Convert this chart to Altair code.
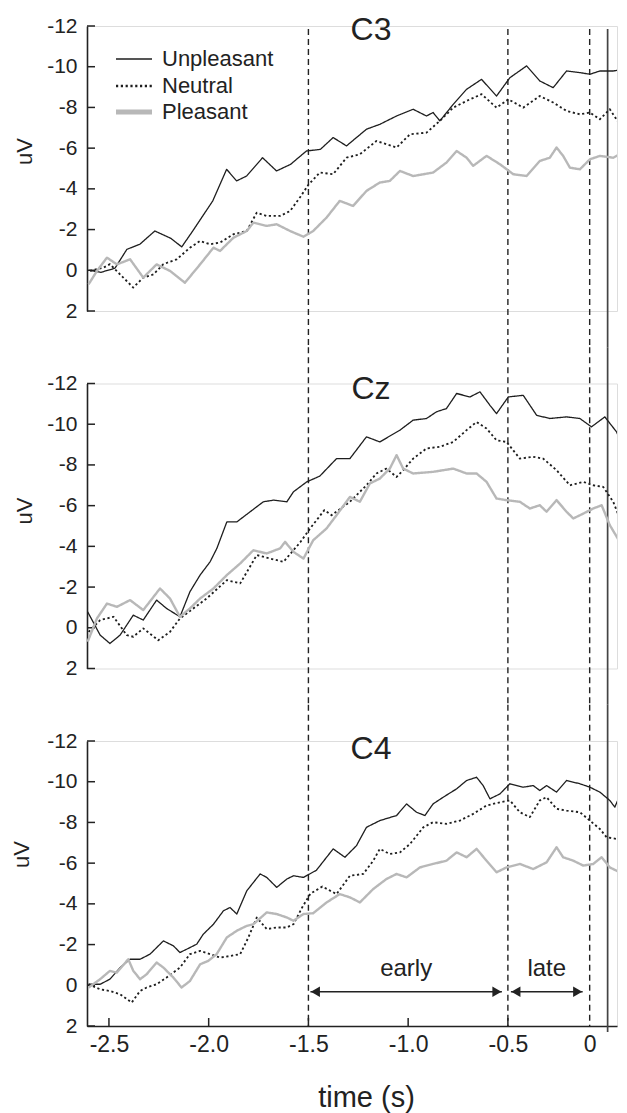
import altair as alt
import pandas as pd

FONT = "Liberation Sans"
INK = "#222222"

CONDITIONS = ["Unpleasant", "Neutral", "Pleasant"]
COND_COLORS = ["#1e1e1e", "#1e1e1e", "#b8b8b8"]
COND_DASH = [[1, 0], [2.2, 2.6], [1, 0]]
COND_WIDTH = [1.3, 2.4, 5.0]

PANELS = ["C3", "Cz", "C4"]
Y_TICKS = [-12, -10, -8, -6, -4, -2, 0, 2]
X_TICKS = [-2.5, -2.0, -1.5, -1.0, -0.5]
X_LABEL_TICKS = [-2.5, -2.0, -1.5, -1.0, -0.5, -0.09]
DASHED_T = [-1.5, -0.5, -0.09]
SOLID_T = [0.0]

WIN_LABELS = ["early", "late"]
WIN_START = [-1.49, -0.485]
WIN_END = [-0.53, -0.125]
WIN_MID = [-1.01, -0.305]
WIN_ARROW_V = [0.32, 0.32]
WIN_TEXT_V = [-0.81, -0.81]

C3_UNP_T = [-2.60, -2.54, -2.47, -2.41, -2.345, -2.27, -2.19, -2.135, -2.08, -1.98, -1.91, -1.86, -1.81, -1.73,
            -1.66, -1.59, -1.51, -1.44, -1.376, -1.309, -1.209, -1.142, -1.058, -0.975, -0.908, -0.875, -0.841,
            -0.774, -0.707, -0.632, -0.557, -0.49, -0.406, -0.34, -0.273, -0.206, -0.139, -0.089, -0.039, 0.028,
            0.079, 0.097]
C3_UNP_V = [0.0, 0.1, -0.1, -1.03, -1.28, -1.93, -1.57, -1.15, -1.93, -3.4, -4.96, -4.39, -4.63, -5.53,
            -4.88, -5.2, -5.86, -5.94, -6.52, -6.11, -6.93, -7.17, -7.58, -7.91, -7.58, -7.75, -7.34,
            -8.15, -8.89, -9.38, -8.56, -9.46, -10.04, -9.30, -8.97, -9.79, -9.71, -9.63, -9.79, -9.79,
            -9.87, -9.63]
C3_NEU_T = [-2.595, -2.528, -2.495, -2.428, -2.378, -2.328, -2.277, -2.227, -2.160, -2.094, -2.043, -1.993,
            -1.943, -1.876, -1.809, -1.759, -1.709, -1.642, -1.592, -1.541, -1.50, -1.443, -1.376, -1.309,
            -1.242, -1.159, -1.058, -0.991, -0.908, -0.841, -0.774, -0.707, -0.632, -0.557, -0.498, -0.423,
            -0.340, -0.273, -0.206, -0.139, -0.089, -0.039, 0.011, 0.061, 0.097]
C3_NEU_V = [0.03, -0.13, -0.3, 0.36, 0.85, 0.36, 0.2, -0.3, -0.54, -1.11, -1.44, -1.28,
            -1.36, -1.77, -1.93, -2.83, -2.67, -2.67, -2.91, -3.6, -4.2, -4.8, -4.72, -5.53,
            -5.70, -6.35, -6.03, -6.68, -6.76, -7.34, -7.99, -8.32, -8.65, -7.99, -8.40, -7.99,
            -8.56, -8.24, -7.83, -7.66, -7.75, -7.42, -7.91, -7.17, -6.35]
C3_PLE_T = [-2.602, -2.560, -2.510, -2.460, -2.394, -2.328, -2.261, -2.194, -2.119, -2.043, -1.976, -1.943,
            -1.876, -1.809, -1.776, -1.709, -1.659, -1.592, -1.525, -1.476, -1.409, -1.343, -1.276, -1.209,
            -1.142, -1.092, -1.041, -0.975, -0.875, -0.808, -0.757, -0.707, -0.674, -0.607, -0.540, -0.473,
            -0.406, -0.340, -0.290, -0.256, -0.223, -0.189, -0.139, -0.089, -0.039, 0.028, 0.061, 0.097]
C3_PLE_V = [0.69, 0.03, -0.62, -0.29, -0.54, 0.36, -0.29, 0.03, 0.61, -0.29, -1.11, -0.95,
            -1.60, -1.93, -2.34, -2.18, -2.26, -1.93, -1.65, -1.93, -2.59, -3.41, -3.16, -3.90,
            -4.31, -4.39, -4.88, -4.63, -4.80, -5.29, -5.86, -5.53, -5.13, -5.62, -5.21, -4.72,
            -4.63, -5.37, -5.53, -6.03, -5.62, -5.04, -4.96, -5.45, -5.62, -5.53, -5.70, -5.21]

CZ_UNP_T = [-2.607, -2.544, -2.495, -2.444, -2.378, -2.328, -2.261, -2.211, -2.144, -2.094, -2.043, -1.993,
            -1.959, -1.909, -1.859, -1.792, -1.726, -1.675, -1.608, -1.575, -1.508, -1.443, -1.359, -1.292,
            -1.209, -1.142, -1.041, -0.975, -0.908, -0.858, -0.808, -0.757, -0.690, -0.640, -0.590, -0.557,
            -0.498, -0.423, -0.356, -0.290, -0.206, -0.139, -0.081, -0.014, 0.045, 0.097]
CZ_UNP_V = [-0.79, 0.36, 0.77, 0.36, -0.62, -0.38, -1.36, -0.95, -0.54, -1.77, -2.59, -3.24,
            -3.90, -5.20, -5.20, -5.70, -6.19, -6.27, -6.19, -6.68, -7.17, -7.45, -8.31, -8.31,
            -9.38, -9.13, -9.71, -10.20, -10.28, -10.61, -10.77, -11.51, -11.34, -11.59, -10.93, -10.52,
            -11.34, -11.42, -10.44, -10.28, -10.36, -10.28, -9.87, -10.36, -9.62, -8.40]
CZ_NEU_T = [-2.602, -2.544, -2.477, -2.411, -2.378, -2.328, -2.253, -2.194, -2.144, -2.077, -2.010, -1.909,
            -1.842, -1.759, -1.692, -1.625, -1.541, -1.49, -1.45, -1.42, -1.384, -1.292, -1.209, -1.159,
            -1.109, -1.058, -1.025, -0.975, -0.908, -0.841, -0.774, -0.707, -0.657, -0.607, -0.557, -0.507,
            -0.440, -0.373, -0.323, -0.256, -0.189, -0.122, -0.072, -0.022, 0.028, 0.061, 0.097]
CZ_NEU_V = [0.2, -0.38, -0.54, 0.36, 0.44, 0.03, 0.61, 0.2, -0.46, -0.95, -1.44, -2.34,
            -2.18, -3.57, -3.40, -3.24, -4.2, -4.9, -5.4, -5.78, -5.53, -6.19, -7.0, -7.58,
            -7.82, -7.41, -7.74, -8.31, -8.81, -8.89, -9.13, -9.71, -10.11, -9.79, -9.21, -9.13,
            -8.31, -8.40, -8.31, -7.74, -7.00, -7.17, -7.00, -6.92, -6.19, -5.37, -4.71]
CZ_PLE_T = [-2.607, -2.560, -2.510, -2.460, -2.394, -2.328, -2.244, -2.194, -2.144, -2.094, -2.043, -1.976,
            -1.909, -1.842, -1.776, -1.709, -1.642, -1.617, -1.575, -1.525, -1.476, -1.409, -1.359, -1.292,
            -1.242, -1.192, -1.142, -1.092, -1.058, -1.025, -0.975, -0.875, -0.774, -0.707, -0.657, -0.607,
            -0.557, -0.507, -0.440, -0.390, -0.340, -0.306, -0.256, -0.206, -0.172, -0.122, -0.072, -0.030,
            0.011, 0.061, 0.097]
CZ_PLE_V = [0.69, -0.46, -1.19, -1.03, -1.36, -0.87, -1.93, -1.44, -0.54, -0.95, -1.44, -1.93,
            -2.59, -3.16, -3.81, -3.65, -3.90, -4.22, -3.73, -3.40, -4.30, -4.88, -5.53, -6.43,
            -6.19, -7.09, -7.33, -7.82, -8.48, -7.82, -7.58, -7.66, -7.82, -7.58, -7.58, -7.17,
            -6.35, -6.27, -6.19, -5.86, -6.02, -5.70, -6.27, -5.70, -5.37, -5.61, -5.86, -6.02,
            -5.04, -4.22, -3.08]

C4_UNP_T = [-2.602, -2.544, -2.495, -2.444, -2.394, -2.344, -2.294, -2.227, -2.177, -2.144, -2.094, -2.060,
            -2.027, -1.976, -1.926, -1.893, -1.859, -1.809, -1.742, -1.709, -1.659, -1.608, -1.575, -1.525,
            -1.460, -1.376, -1.317, -1.259, -1.209, -1.142, -1.058, -1.008, -0.958, -0.916, -0.875, -0.824,
            -0.757, -0.707, -0.657, -0.624, -0.590, -0.540, -0.490, -0.423, -0.373, -0.340, -0.306, -0.256,
            -0.206, -0.139, -0.089, -0.039, 0.011, 0.036, 0.061, 0.097]
C4_UNP_V = [-0.05, -0.05, -0.30, -0.87, -1.28, -1.28, -1.53, -2.18, -1.94, -1.61, -1.85, -2.02,
            -2.51, -3.00, -3.66, -3.82, -3.50, -4.64, -5.47, -5.30, -4.81, -5.22, -5.38, -5.30,
            -5.65, -6.70, -6.29, -6.86, -7.76, -8.09, -8.34, -8.91, -8.50, -8.34, -8.91, -9.24,
            -9.65, -10.06, -10.22, -9.81, -9.16, -9.40, -9.90, -9.73, -9.81, -9.57, -9.81, -9.49,
            -10.06, -9.90, -9.73, -9.49, -9.08, -8.75, -9.32, -9.73]
C4_NEU_T = [-2.602, -2.544, -2.495, -2.444, -2.386, -2.344, -2.311, -2.261, -2.211, -2.144, -2.094, -2.043,
            -1.993, -1.943, -1.893, -1.842, -1.801, -1.759, -1.709, -1.659, -1.608, -1.575, -1.53, -1.49,
            -1.43, -1.359, -1.292, -1.225, -1.175, -1.142, -1.092, -1.041, -0.991, -0.924, -0.875, -0.808,
            -0.741, -0.674, -0.607, -0.540, -0.490, -0.440, -0.390, -0.340, -0.306, -0.256, -0.206, -0.139,
            -0.089, -0.039, -0.005, 0.045, 0.097]
C4_NEU_V = [-0.05, 0.20, 0.28, 0.44, 0.85, 0.28, 0.11, -0.05, -0.38, -0.87, -1.53, -1.69,
            -1.53, -1.36, -1.44, -1.53, -2.35, -3.33, -2.76, -2.84, -2.84, -3.00, -3.85, -4.5,
            -4.85, -4.48, -5.38, -5.47, -6.12, -6.70, -6.45, -6.53, -6.94, -7.76, -8.01, -7.93,
            -8.09, -8.42, -8.83, -8.99, -9.08, -8.50, -8.26, -9.08, -9.24, -8.67, -8.58, -8.50,
            -8.09, -7.68, -7.27, -7.19, -6.78]
C4_PLE_T = [-2.602, -2.544, -2.495, -2.461, -2.403, -2.378, -2.344, -2.311, -2.261, -2.227, -2.177, -2.136,
            -2.094, -2.043, -2.002, -1.960, -1.909, -1.859, -1.809, -1.776, -1.709, -1.659, -1.608, -1.575,
            -1.525, -1.476, -1.409, -1.343, -1.292, -1.242, -1.175, -1.109, -1.058, -1.008, -0.941, -0.875,
            -0.808, -0.757, -0.707, -0.657, -0.607, -0.557, -0.507, -0.440, -0.373, -0.306, -0.256, -0.223,
            -0.172, -0.122, -0.072, -0.030, 0.011, 0.061, 0.097]
C4_PLE_V = [0.11, -0.30, -0.71, -0.62, -1.28, -0.71, -0.30, -0.54, -1.12, -0.87, -0.38, 0.11,
            -0.21, -1.03, -1.20, -1.53, -2.35, -2.68, -2.92, -3.00, -3.58, -3.50, -3.33, -3.17,
            -3.50, -3.54, -4.07, -4.48, -4.32, -4.07, -4.73, -5.22, -5.47, -5.30, -5.79, -5.96,
            -6.12, -6.53, -6.29, -6.70, -6.12, -5.55, -5.79, -5.96, -5.71, -6.04, -6.78, -6.29,
            -6.12, -5.88, -5.96, -6.29, -5.79, -5.55, -6.20]

SERIES = {
    "C3": [(C3_UNP_T, C3_UNP_V), (C3_NEU_T, C3_NEU_V), (C3_PLE_T, C3_PLE_V)],
    "Cz": [(CZ_UNP_T, CZ_UNP_V), (CZ_NEU_T, CZ_NEU_V), (CZ_PLE_T, CZ_PLE_V)],
    "C4": [(C4_UNP_T, C4_UNP_V), (C4_NEU_T, C4_NEU_V), (C4_PLE_T, C4_PLE_V)],
}

# layout (pixels)
W = 530
H = 285
SPACING = 72.5
TITLE_Y = {"C3": 21, "Cz": 22, "C4": 25}   # bottom baseline of the electrode label
UV_Y = {"C3": 125, "Cz": 127, "C4": 113}
UV_X = {"C3": -63, "Cz": -63, "C4": -66}
HALF = SPACING / 2
RULE_EXT = {"C3": (3, HALF), "Cz": (-HALF, HALF), "C4": (-HALF, 0)}
LEG_Y = [33, 60, 86]
LEG_X = (29, 65, 75)

xs = alt.Scale(domain=[-2.61, 0.047], nice=False, zero=False)
ys = alt.Scale(domain=[-12, 2], reverse=True, nice=False, zero=False)

Y_LABEL = "datum.value < 0 ? '-' + format(-datum.value, 'd') : format(datum.value, 'd')"
X_LABEL = "datum.value > -0.3 ? '0' : '-' + format(-datum.value, '.1f')"


def panel(name, bottom=False, legend=False):
    rows = []
    for cond, (ts, vs) in zip(CONDITIONS, SERIES[name]):
        for t, v in zip(ts, vs):
            rows.append({"t": t, "v": v, "cond": cond})
    df = pd.DataFrame(rows)

    if bottom:
        xaxis = alt.Axis(values=X_LABEL_TICKS, labelExpr=X_LABEL, domain=True, labels=True,
                         title="time (s)", titleFont=FONT, titleFontSize=29, titleFontWeight="normal",
                         titleColor=INK, titleX=279, titleY=71, titleBaseline="middle",
                         labelFont=FONT, labelFontSize=23, labelColor=INK, labelPadding=7,
                         labelFlush=False, labelOverlap=False, ticks=False, tickSize=0,
                         domainColor=INK, domainWidth=1.6, grid=False)
    else:
        xaxis = None
    yaxis = alt.Axis(values=Y_TICKS, labelExpr=Y_LABEL, title="uV", titleFont=FONT, titleFontSize=22,
                     titleFontWeight="normal", titleColor=INK, titleX=UV_X[name], titleY=UV_Y[name],
                     titleBaseline="middle", labelFont=FONT, labelFontSize=21, labelColor=INK, labelPadding=10,
                     ticks=False, tickSize=0, domainColor=INK, domainWidth=1.6, grid=False,
                     labelOverlap=False)

    X = lambda f: alt.X(f, scale=xs, axis=xaxis)
    Y = lambda f: alt.Y(f, scale=ys, axis=yaxis)

    lines = alt.Chart(df).mark_line(clip=True, strokeJoin="round").encode(
        x=X("t:Q"), y=Y("v:Q"),
        color=alt.Color("cond:N", scale=alt.Scale(domain=CONDITIONS, range=COND_COLORS), legend=None),
        strokeDash=alt.StrokeDash("cond:N", scale=alt.Scale(domain=CONDITIONS, range=COND_DASH), legend=None),
        strokeWidth=alt.StrokeWidth("cond:N", scale=alt.Scale(domain=CONDITIONS, range=COND_WIDTH), legend=None),
    )

    top, ext = RULE_EXT[name]
    dashed = alt.Chart(pd.DataFrame({"t": DASHED_T})).mark_rule(
        color=INK, strokeWidth=1.4, strokeDash=[6, 4]).encode(
        x=X("t:Q"), y=alt.value(top), y2=alt.value(H + ext))
    solid = alt.Chart(pd.DataFrame({"t": SOLID_T})).mark_rule(
        color="#444444", strokeWidth=1.7).encode(
        x=X("t:Q"), y=alt.value(top), y2=alt.value(H + (6 if bottom else ext)))
    yticks = alt.Chart(pd.DataFrame({"v": Y_TICKS})).mark_rule(color=INK, strokeWidth=1.5).encode(
        y=Y("v:Q"), x=alt.value(0), x2=alt.value(8))
    title = alt.Chart(pd.DataFrame({"label": [name]})).mark_text(
        font=FONT, fontSize=32, color=INK, baseline="bottom", align="center").encode(
        text="label:N", x=alt.value(284), y=alt.value(TITLE_Y[name]))

    layers = [dashed, solid, yticks, lines, title]

    if legend:
        for i, cond in enumerate(CONDITIONS):
            ld = pd.DataFrame({"cond": [cond]})
            layers.append(alt.Chart(ld).mark_rule(
                color=COND_COLORS[i], strokeWidth=COND_WIDTH[i], strokeDash=COND_DASH[i]).encode(
                x=alt.value(LEG_X[0]), x2=alt.value(LEG_X[1]), y=alt.value(LEG_Y[i])))
            layers.append(alt.Chart(ld).mark_text(
                font=FONT, fontSize=22, color=INK, align="left", baseline="middle").encode(
                text="cond:N", x=alt.value(LEG_X[2]), y=alt.value(LEG_Y[i])))

    if bottom:
        xticks = alt.Chart(pd.DataFrame({"t": X_TICKS})).mark_rule(color=INK, strokeWidth=1.5).encode(
            x=X("t:Q"), y=alt.value(H - 8), y2=alt.value(H))
        wins = pd.DataFrame({"label": WIN_LABELS, "t0": WIN_START, "t1": WIN_END, "tm": WIN_MID,
                             "va": WIN_ARROW_V, "vt": WIN_TEXT_V})
        shafts = alt.Chart(wins).mark_rule(color=INK, strokeWidth=1.6).encode(
            x=X("t0:Q"), x2="t1:Q", y=Y("va:Q"))
        left_heads = alt.Chart(wins).mark_point(shape="triangle-left", filled=True, size=110, color=INK,
                                                opacity=1, xOffset=5).encode(x=X("t0:Q"), y=Y("va:Q"))
        right_heads = alt.Chart(wins).mark_point(shape="triangle-right", filled=True, size=110, color=INK,
                                                 opacity=1, xOffset=-5).encode(x=X("t1:Q"), y=Y("va:Q"))
        labels = alt.Chart(wins).mark_text(font=FONT, fontSize=24, color=INK, baseline="middle").encode(
            x=X("tm:Q"), y=Y("vt:Q"), text="label:N")
        layers += [xticks, shafts, left_heads, right_heads, labels]

    return alt.layer(*layers).properties(width=W, height=H)


p1 = panel("C3", legend=True)
p2 = panel("Cz")
p3 = panel("C4", bottom=True)

chart = alt.vconcat(p1, p2, p3, spacing=SPACING, bounds="flush")
chart = (chart.properties(padding={"left": 1, "top": 5, "right": 0, "bottom": 0})
         .configure_view(stroke="transparent", strokeWidth=0)
         .configure_axisX(domain=False, labels=False, ticks=False, grid=False)
         .configure_axis(grid=False)
         .configure(font=FONT))

chart.save("out.html", embed_options={"renderer": "svg", "actions": False})
